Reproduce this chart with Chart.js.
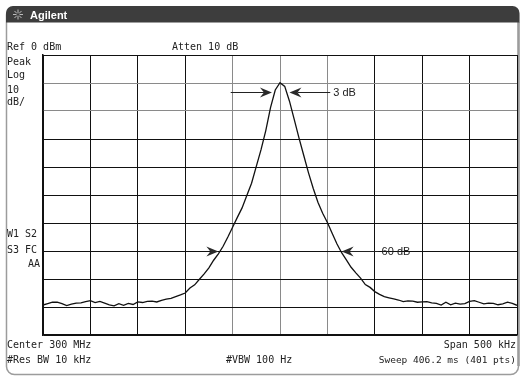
<!DOCTYPE html>
<html>
<head>
<meta charset="utf-8">
<script src="https://cdn.jsdelivr.net/npm/chart.js@4.4.0/dist/chart.umd.min.js"></script>
<style>
  html, body { margin: 0; padding: 0; background: #fff; }
  #wrap { position: relative; width: 524px; height: 383px; }
</style>
</head>
<body>
<div id="wrap"><canvas id="myChart" width="524" height="383"></canvas></div>
<script>
const ctx = document.getElementById('myChart');

// offset from center 300 MHz, in kHz (span 500 kHz)
const offsetKHz = [
  -250, -245, -240, -235, -230, -225, -220, -215, -210, -205,
  -200, -195, -190, -185, -180, -175, -170, -165, -160, -155,
  -150, -145, -140, -135, -130, -125, -120, -115, -110, -105,
  -100, -95, -90, -85, -80, -75, -70, -65, -60, -55,
  -50, -45, -40, -35, -30, -25, -20, -15, -10, -5,
  0, 5, 10, 15, 20, 25, 30, 35, 40, 45,
  50, 55, 60, 65, 70, 75, 80, 85, 90, 95,
  100, 105, 110, 115, 120, 125, 130, 135, 140, 145,
  150, 155, 160, 165, 170, 175, 180, 185, 190, 195,
  200, 205, 210, 215, 220, 225, 230, 235, 240, 245, 250
];
const levelDbm = [
  -89.3, -88.8, -88.3, -88.3, -88.8, -89.5, -89.0, -88.6, -88.5, -88.1,
  -87.7, -88.4, -88.0, -88.6, -89.2, -89.6, -88.8, -89.4, -88.7, -89.1,
  -88.2, -88.4, -88.0, -87.9, -88.2, -87.6, -87.2, -86.9, -86.3, -85.7,
  -85.0, -83.2, -82.1, -80.1, -78.2, -76.0, -73.3, -71.0, -68.3, -65.0,
  -61.5, -58.0, -54.6, -50.2, -45.8, -39.8, -33.8, -27.0, -18.8, -12.5,
  -9.9, -11.2, -16.5, -23.0, -29.6, -35.8, -42.0, -47.6, -52.6, -56.5,
  -59.8, -63.7, -67.4, -70.6, -73.2, -75.8, -77.8, -79.7, -82.0, -83.0,
  -84.5, -85.5, -86.3, -86.7, -87.1, -87.5, -88.1, -87.8, -87.9, -88.3,
  -88.2, -88.1, -88.5, -88.7, -89.3, -88.3, -89.2, -88.6, -89.0, -88.8,
  -88.0, -87.7, -88.3, -88.9, -88.6, -88.7, -89.2, -88.9, -88.3, -88.7, -89.4
];

const topLabels = ['Ref 0 dBm', 'Atten 10 dB'];
const sideLabels = ['Peak', 'Log', '10', 'dB/'];
const flagLabels = ['W1 S2', 'S3 FC', 'AA'];
const bottomLabels = ['Center 300 MHz', '#Res BW 10 kHz', '#VBW 100 Hz', 'Span 500 kHz', 'Sweep 406.2 ms (401 pts)'];

const mono = '10px "DejaVu Sans Mono", monospace';

// instrument frame, header bar and screen annotations
const screenPlugin = {
  id: 'screen',
  beforeDraw(chart) {
    const c = chart.ctx;
    c.save();
    c.fillStyle = '#fff';
    c.fillRect(0, 0, chart.width, chart.height);
    // outer frame
    c.strokeStyle = '#9c9c9c';
    c.lineWidth = 1.5;
    c.beginPath();
    c.roundRect(6.5, 7, 512, 367.5, 8);
    c.stroke();
    c.lineWidth = 2.5;
    c.beginPath();
    c.moveTo(518.5, 22);
    c.lineTo(518.5, 366);
    c.stroke();
    // header
    c.fillStyle = '#3d3d3d';
    c.beginPath();
    c.roundRect(6, 6, 513.5, 16.5, [7, 7, 0, 0]);
    c.fill();
    // little spark logo
    c.strokeStyle = '#bdbdbd';
    c.lineWidth = 1;
    for (let a = 0; a < 8; a++) {
      const ang = a * Math.PI / 4;
      c.beginPath();
      c.moveTo(18 + Math.cos(ang) * 1.5, 14.5 + Math.sin(ang) * 1.5);
      c.lineTo(18 + Math.cos(ang) * 5, 14.5 + Math.sin(ang) * 5);
      c.stroke();
    }
    c.fillStyle = '#fff';
    c.font = 'bold 11px "Liberation Sans", Arial, sans-serif';
    c.textBaseline = 'alphabetic';
    c.fillText('Agilent', 30, 19);
    c.restore();
  },
  afterDraw(chart) {
    const c = chart.ctx;
    const xs = chart.scales.x, ys = chart.scales.y;
    c.save();
    c.fillStyle = '#222';
    c.font = mono;
    c.textBaseline = 'alphabetic';
    c.textAlign = 'left';
    c.fillText(topLabels[0], 7, 50);
    c.fillText(topLabels[1], 172, 50);
    const sideY = [65, 78, 93, 105];
    sideLabels.forEach((t, i) => c.fillText(t, 7, sideY[i]));
    c.fillText(flagLabels[0], 7, 237);
    c.fillText(flagLabels[1], 7, 253);
    c.textAlign = 'right';
    c.fillText(flagLabels[2], 40, 267);
    c.textAlign = 'left';
    c.fillText(bottomLabels[0], 7, 348);
    c.fillText(bottomLabels[1], 7, 363);
    c.fillText(bottomLabels[2], 226, 363);
    c.textAlign = 'right';
    c.fillText(bottomLabels[3], 516, 348);
    c.save();
    c.font = '9.5px "DejaVu Sans Mono", monospace';
    c.fillText(bottomLabels[4], 516, 363);
    c.restore();

    // arrows
    const head = (tx, ty, dir) => {
      c.fillStyle = '#2a2a2a';
      c.beginPath();
      c.moveTo(tx, ty);
      c.lineTo(tx - dir * 12, ty - 5);
      c.lineTo(tx - dir * 8, ty);
      c.lineTo(tx - dir * 12, ty + 5);
      c.closePath();
      c.fill();
    };
    c.strokeStyle = '#222';
    c.lineWidth = 1;
    const y3 = Math.round(ys.getPixelForValue(-13.3)) + 0.5;
    const l3a = xs.getPixelForValue(-52), l3b = xs.getPixelForValue(-8.5);
    const r3a = xs.getPixelForValue(10), r3b = xs.getPixelForValue(53);
    c.beginPath(); c.moveTo(l3a, y3); c.lineTo(l3b - 8, y3); c.stroke();
    head(l3b, y3, 1);
    c.beginPath(); c.moveTo(r3a + 8, y3); c.lineTo(r3b, y3); c.stroke();
    head(r3a, y3, -1);
    const y60 = Math.round(ys.getPixelForValue(-70)) + 0.5;
    head(xs.getPixelForValue(-65), y60, 1);
    const r60a = xs.getPixelForValue(65), r60b = xs.getPixelForValue(104);
    c.beginPath(); c.moveTo(r60a + 8, y60); c.lineTo(r60b, y60); c.stroke();
    head(r60a, y60, -1);
    c.fillStyle = '#222';
    c.font = '11px "Liberation Sans", Arial, sans-serif';
    c.textAlign = 'left';
    c.textBaseline = 'middle';
    c.fillText('3 dB', r3b + 3, y3);
    c.fillText('60 dB', r60b + 3, y60);
    c.restore();
  }
};

const data = {
  datasets: [{
    data: offsetKHz.map((k, i) => ({ x: k, y: levelDbm[i] })),
    borderColor: '#111',
    borderWidth: 1.3,
    pointRadius: 0,
    tension: 0,
    fill: false
  }]
};

const config = {
  type: 'line',
  data: data,
  options: {
    responsive: false,
    animation: false,
    layout: { padding: { left: 43, right: 7, top: 55, bottom: 48 } },
    plugins: {
      legend: { display: false },
      tooltip: { enabled: false }
    },
    scales: {
      x: {
        type: 'linear',
        min: -250,
        max: 250,
        ticks: { display: false, stepSize: 50 },
        grid: {
          drawTicks: false,
          lineWidth: 1,
          color: (c) => ([4, 5, 6].includes(c.index) ? '#8a8a8a' : '#111')
        },
        border: { color: '#111', width: 1.5 }
      },
      y: {
        min: -100,
        max: 0,
        ticks: { display: false, stepSize: 10 },
        grid: {
          drawTicks: false,
          lineWidth: 1,
          color: (c) => ([8, 9].includes(c.index) ? '#8a8a8a' : '#111')
        },
        border: { color: '#111', width: 1.5 }
      }
    }
  },
  plugins: [screenPlugin]
};

new Chart(ctx, config);
</script>
</body>
</html>
